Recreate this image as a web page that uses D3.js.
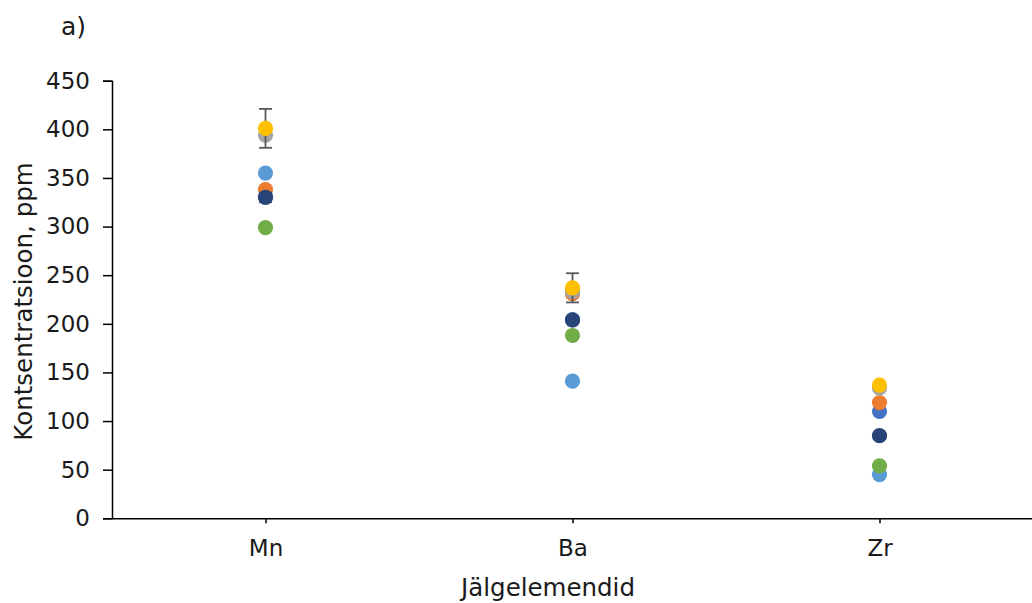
<!DOCTYPE html>
<html>
<head>
<meta charset="utf-8">
<script src="https://cdn.jsdelivr.net/npm/d3@7"></script>
<style>
  html, body { margin: 0; padding: 0; background: #fff; }
  svg { display: block; }
  text { font-family: "DejaVu Sans", Verdana, sans-serif; fill: #1a1a1a; }
</style>
</head>
<body>
<svg id="chart" width="1032" height="603"></svg>
<script>
// Trace elements (ppm) per sample series
const elements = ["Mn", "Ba", "Zr"];
const seriesNames = ["S1", "S2", "S3", "S4", "S5", "S6", "S7"];
const seriesColors = ["#4472C4", "#ED7D31", "#A5A5A5", "#FFC000", "#5B9BD5", "#70AD47", "#264478"];
const s1 = [331, 204, 110];
const s2 = [338, 231, 119];
const s3 = [394, 233, 134];
const s4 = [401, 237, 137];
const s5 = [355, 141, 45];
const s6 = [299, 188, 54];
const s7 = [330, 204, 85];
// standard deviations (0 = none shown)
const e1 = [0, 0, 0];
const e2 = [0, 0, 0];
const e3 = [0, 0, 0];
const e4 = [20, 15, 0];
const e5 = [0, 0, 0];
const e6 = [0, 0, 0];
const e7 = [5, 0, 0];
const yTicks = [0, 50, 100, 150, 200, 250, 300, 350, 400, 450];

const values = [s1, s2, s3, s4, s5, s6, s7];
const errors = [e1, e2, e3, e4, e5, e6, e7];

const svg = d3.select("#chart");
const plotLeft = 112, plotRight = 1033, plotTop = 80.7, plotBottom = 518.3;

const x = d3.scalePoint().domain(elements).range([plotLeft, plotRight]).padding(0.5);
const y = d3.scaleLinear().domain([0, 450]).range([plotBottom, plotTop]);

const fontFamily = '"DejaVu Sans", Verdana, sans-serif';

// y axis
const yAxis = svg.append("g")
  .attr("transform", `translate(${plotLeft},0)`)
  .call(d3.axisLeft(y).tickValues(yTicks).tickSize(9).tickPadding(13));
yAxis.select(".domain").attr("stroke", "#000").attr("stroke-width", 1.5);
yAxis.selectAll(".tick line").attr("stroke", "#000").attr("stroke-width", 1.5);
yAxis.selectAll(".tick text").attr("font-size", 23).attr("fill", "#1a1a1a")
  .style("font-family", fontFamily);

// x axis
const xAxis = svg.append("g")
  .attr("transform", `translate(0,${plotBottom})`)
  .call(d3.axisBottom(x).tickSizeInner(5).tickSizeOuter(0).tickPadding(16));
xAxis.select(".domain").attr("stroke", "#000").attr("stroke-width", 1.5);
xAxis.selectAll(".tick line").attr("stroke", "#000").attr("stroke-width", 1.5);
xAxis.selectAll(".tick text").attr("font-size", 23).attr("fill", "#1a1a1a")
  .style("font-family", fontFamily);

// axis titles
svg.append("text")
  .attr("x", 548).attr("y", 596)
  .attr("text-anchor", "middle")
  .attr("font-size", 24.5)
  .text("Jälgelemendid");

svg.append("text")
  .attr("transform", `translate(32,${(plotTop + plotBottom) / 2 + 2}) rotate(-90)`)
  .attr("text-anchor", "middle")
  .attr("font-size", 24.5)
  .text("Kontsentratsioon, ppm");

// panel label
svg.append("text")
  .attr("x", 61).attr("y", 35)
  .attr("font-size", 25)
  .text("a)");

// points with error bars, one series at a time
const plot = svg.append("g");
seriesNames.forEach((name, i) => {
  const g = plot.append("g").attr("class", "series " + name);
  const pts = elements.map((el, j) => ({ el, v: values[i][j], e: errors[i][j] }));
  const withErr = pts.filter(d => d.e > 0);
  const eb = g.selectAll(".err").data(withErr).join("g").attr("class", "err")
    .attr("stroke", "#595959").attr("stroke-width", 1.8).attr("fill", "none");
  eb.append("line")
    .attr("x1", d => x(d.el)).attr("x2", d => x(d.el))
    .attr("y1", d => y(d.v - d.e)).attr("y2", d => y(d.v + d.e));
  eb.append("line")
    .attr("x1", d => x(d.el) - 6.5).attr("x2", d => x(d.el) + 6.5)
    .attr("y1", d => y(d.v + d.e)).attr("y2", d => y(d.v + d.e));
  eb.append("line")
    .attr("x1", d => x(d.el) - 6.5).attr("x2", d => x(d.el) + 6.5)
    .attr("y1", d => y(d.v - d.e)).attr("y2", d => y(d.v - d.e));
  g.selectAll("circle").data(pts).join("circle")
    .attr("cx", d => x(d.el))
    .attr("cy", d => y(d.v))
    .attr("r", 7.6)
    .attr("fill", seriesColors[i]);
});
</script>
</body>
</html>
